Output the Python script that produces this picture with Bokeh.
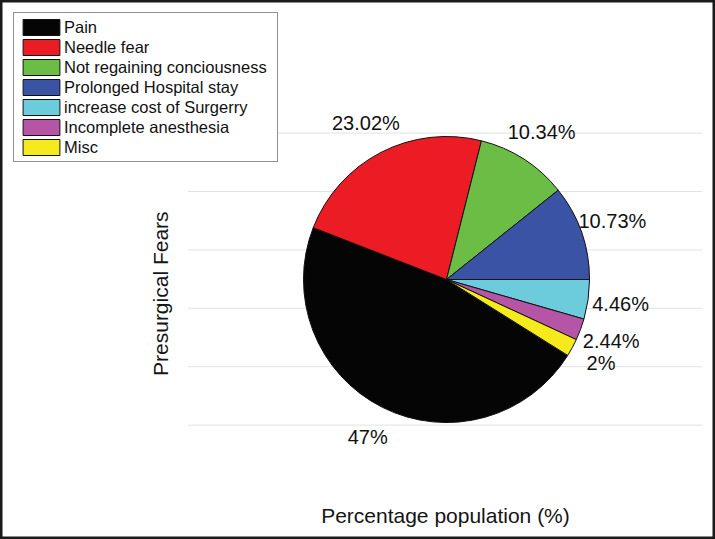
import numpy as np
from bokeh.plotting import figure
from bokeh.models import ColumnDataSource, Range1d, Legend, LegendItem, Label
from bokeh.core.properties import value
from bokeh.embed import file_html
from bokeh.resources import INLINE

# ---- data ----
categories = ["Pain", "Needle fear", "Not regaining conciousness",
              "Prolonged Hospital stay", "increase cost of Surgerry",
              "Incomplete anesthesia", "Misc"]
values = [47, 23.02, 10.34, 10.73, 4.46, 2.44, 2]
labels = ["47%", "23.02%", "10.34%", "10.73%", "4.46%", "2.44%", "2%"]
colors = ["#050505", "#EC1C24", "#6CBD45", "#3A53A4", "#6DCCDC", "#B655A5", "#F5EB1C"]
grid_ticks = [1, 2, 3, 4, 5, 6]
x_title = "Percentage population (%)"
y_title = "Presurgical Fears"

FONT = "Liberation Sans"

# ---- geometry (style) ----
cx, cy = 4.418, 3.493
R = 2.449
label_r = 3.01
grid_x0, grid_x1 = 0.0, 8.80
# clockwise order starting from angle 0
draw_order = [4, 5, 6, 0, 1, 2, 3]

vals = np.array(values, dtype=float)
total = vals.sum()
start = np.zeros(len(vals))
end = np.zeros(len(vals))
acc = 0.0
for i in draw_order:
    a0 = acc
    acc += vals[i] / total * 2 * np.pi
    start[i] = -acc
    end[i] = -a0
mid = (start + end) / 2
lx = cx + label_r * np.cos(mid)
ly = cy + label_r * np.sin(mid)

src = ColumnDataSource(dict(cat=categories, val=values, lab=labels, color=colors,
                            start=start, end=end, lx=lx, ly=ly))

W, H = 715, 539
ppu = 58.4  # pixels per unit
x0_px, y0_px = 188, 483
p = figure(width=W, height=H, output_backend="svg", toolbar_location=None,
           x_range=Range1d(-x0_px / ppu, (W - x0_px) / ppu),
           y_range=Range1d(-(H - y0_px) / ppu, y0_px / ppu),
           x_axis_location=None, y_axis_location=None,
           min_border=0)
p.grid.visible = False
p.outline_line_color = "#1a1a1a"
p.outline_line_width = 4
p.background_fill_color = "white"
p.border_fill_color = "white"

# dotted grid lines
p.segment(x0=[grid_x0] * len(grid_ticks), x1=[grid_x1] * len(grid_ticks),
          y0=grid_ticks, y1=grid_ticks, line_color="#c4c4c4", line_dash="1 1",
          line_width=1)

w = p.wedge(x=cx, y=cy, radius=R, start_angle="start", end_angle="end",
            fill_color="color", line_color="#111111", line_width=1, source=src)

p.text(x="lx", y="ly", text="lab", source=src, text_align="center",
       text_baseline="middle", text_font=value(FONT), text_font_size="20px",
       text_color="#111111")

# axis titles
p.add_layout(Label(x=(grid_x0 + grid_x1) / 2, y=-0.55, text=x_title,
                   text_align="center", text_baseline="middle", text_font=FONT,
                   text_font_size="21px", text_color="#151515"))
p.add_layout(Label(x=-0.48, y=3.25, text=y_title, angle=np.pi / 2,
                   text_align="center", text_baseline="middle", text_font=FONT,
                   text_font_size="21px", text_color="#151515"))

items = [LegendItem(label=categories[i], renderers=[w], index=i) for i in range(len(categories))]
legend = Legend(items=items, location=(13, H - 162))
legend.glyph_width = 46
legend.glyph_height = 20
legend.label_height = 20
legend.label_width = 209
legend.spacing = 0
legend.padding = 4
legend.margin = 0
legend.label_standoff = 0
legend.label_text_font = FONT
legend.label_text_font_size = "16.5px"
legend.label_text_color = "#111111"
legend.label_text_baseline = "middle"
legend.border_line_color = "#222222"
legend.border_line_width = 1.5
legend.background_fill_alpha = 1
p.add_layout(legend, "center")

open("out.html", "w").write(file_html(p, INLINE))
